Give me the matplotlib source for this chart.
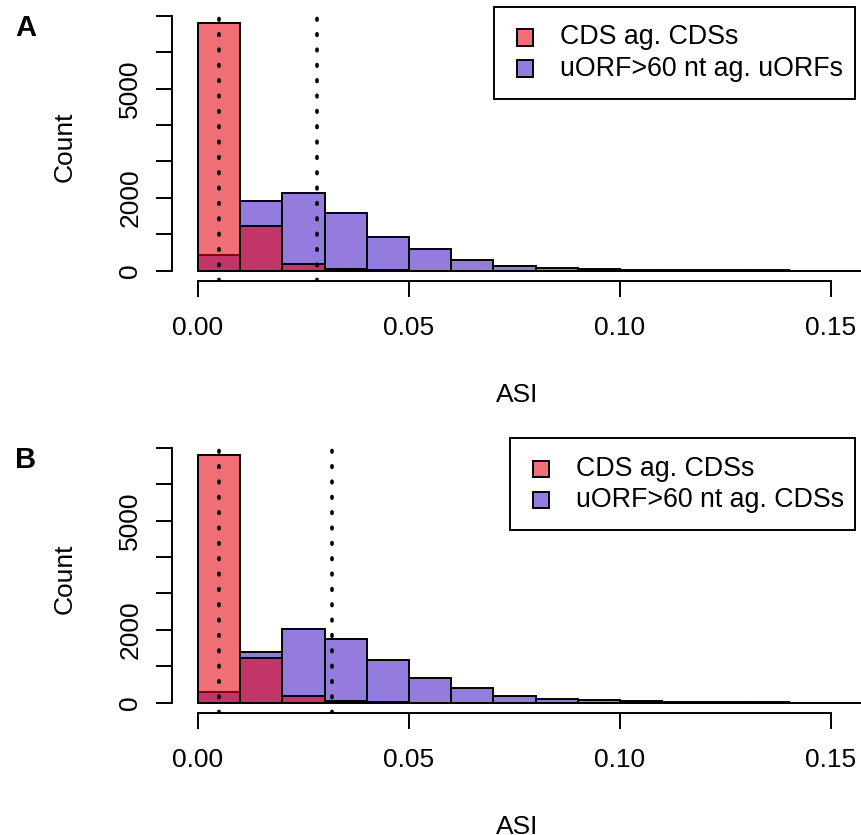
# Histogramas de ASI: CDS contra CDSs frente a uORFs > 60 nt (paneles A y B).
# Se dibujan las cuentas por bin de 0.01 con el estilo de graficas base de R.

import matplotlib
matplotlib.use('Agg')
import matplotlib.pyplot as plt
from matplotlib.patches import Rectangle

plt.rcParams['font.family'] = ['Liberation Sans', 'DejaVu Sans']

# Bins de ASI (borde izquierdo de cada bin, ancho 0.01)
ancho_bin = 0.01
bordes_bin = [i * ancho_bin for i in range(16)]

# Cuentas por bin: CDS ag. CDSs (igual en ambos paneles)
cuentas_cds = [6805, 1218, 184, 48, 8, 2, 0, 0, 0, 0, 0, 0, 0, 0, 0, 0]
# Panel A: uORF>60 nt ag. uORFs
cuentas_uorf_a = [430, 1913, 2141, 1593, 934, 587, 302, 135, 82, 46, 27, 14, 9, 6, 3, 2]
# Panel B: uORF>60 nt ag. CDSs
cuentas_uorf_b = [285, 1392, 2014, 1749, 1172, 678, 395, 176, 102, 66, 47, 20, 12, 7, 4, 2]

# Medianas (lineas punteadas)
mediana_cds = 0.005
mediana_uorf_a = 0.0281
mediana_uorf_b = 0.0318

etiquetas_a = ['CDS ag. CDSs', 'uORF>60 nt ag. uORFs']
etiquetas_b = ['CDS ag. CDSs', 'uORF>60 nt ag. CDSs']

ticks_x = [0.0, 0.05, 0.10, 0.15]
etiquetas_x = ['0.00', '0.05', '0.10', '0.15']
ticks_y = [0, 1000, 2000, 3000, 4000, 5000, 6000, 7000]
etiquetas_y = ['0', '', '2000', '', '', '5000', '', '']

# Colores: rojo semitransparente encima del morado
color_rojo = (229 / 255, 0.0, 15 / 255)
alfa_rojo = 0.57
color_morado = '#947CDE'

ANCHO, ALTO = 862, 835
LW = 1.4
fig = plt.figure(figsize=(ANCHO / 100, ALTO / 100), dpi=100)


def px(x, y):
    # Convierte pixeles (origen arriba-izquierda) a fraccion de figura
    return x / ANCHO, 1 - y / ALTO


def panel(y_base, cuentas_uorf, mediana_uorf, letra, etiquetas, caja_leyenda):
    """Dibuja un panel: histogramas superpuestos, medianas y leyenda."""
    # 0.01 de ASI = 42.2 px; 1000 cuentas = 36.43 px
    esc_x, esc_y = 4220.0, 0.03643
    izq, alto_ax = 172.3, 267.9
    arriba = y_base - 7079 * esc_y
    x0, y0 = px(izq, arriba + alto_ax)
    ax = fig.add_axes([x0, y0, 1 - x0, alto_ax / ALTO])
    ax.set_xlim((izq - 198) / esc_x, (ANCHO - 198) / esc_x)
    ax.set_ylim(-(alto_ax - 7079 * esc_y) / esc_y, 7079)

    ax.bar(bordes_bin, cuentas_uorf, width=ancho_bin, align='edge',
           color=color_morado, edgecolor='black', linewidth=LW)
    ax.bar(bordes_bin, cuentas_cds, width=ancho_bin, align='edge',
           color=color_rojo + (alfa_rojo,), edgecolor='black', linewidth=LW)

    # Puntos redondos cada ~15 px
    for m in (mediana_cds, mediana_uorf):
        ax.axvline(m, color='black', linewidth=2.6,
                   linestyle=(0, (0.45, 3.8)), dash_capstyle='round')

    # Ejes al estilo R: sin caja, solo lineas entre los ticks extremos
    for lado in ('top', 'right'):
        ax.spines[lado].set_visible(False)
    ax.spines['left'].set_bounds(0, 7000)
    ax.spines['bottom'].set_bounds(0, 0.15)
    for lado in ('left', 'bottom'):
        ax.spines[lado].set_linewidth(LW)
    ax.set_xticks(ticks_x, etiquetas_x)
    ax.set_yticks(ticks_y, etiquetas_y)
    ax.tick_params(length=11.5, width=LW, labelsize=19)
    ax.tick_params(axis='x', pad=14)
    ax.tick_params(axis='y', pad=10)
    for t in ax.get_yticklabels():
        t.set_rotation(90)
        t.set_va('center')
    ax.set_xlabel('ASI', fontsize=19, labelpad=31)
    ax.set_ylabel('Count', fontsize=19, labelpad=30)

    fig.text(*px(26, arriba + 15), letra, fontsize=21, fontweight='bold',
             ha='center', va='center')

    # Leyenda con caja negra
    cx0, cy0, cx1, cy1 = caja_leyenda
    bx, by = px(cx0, cy1)
    fig.add_artist(Rectangle((bx, by), (cx1 - cx0) / ANCHO, (cy1 - cy0) / ALTO,
                             transform=fig.transFigure, facecolor='white',
                             edgecolor='black', linewidth=LW))
    colores = [color_rojo + (alfa_rojo,), color_morado]
    for i, (etq, col) in enumerate(zip(etiquetas, colores)):
        fila = cy0 + 30.5 + 31 * i
        qx, qy = px(cx0 + 23, fila + 8.2)
        fig.add_artist(Rectangle((qx, qy), 16.5 / ANCHO, 16.5 / ALTO,
                                 transform=fig.transFigure, facecolor=col,
                                 edgecolor='black', linewidth=LW))
        fig.text(*px(cx0 + 66, fila), etq, fontsize=19.3, ha='left', va='center')
    return ax


panel(270.7, cuentas_uorf_a, mediana_uorf_a, 'A', etiquetas_a, (494, 7, 855, 99))
panel(702.7, cuentas_uorf_b, mediana_uorf_b, 'B', etiquetas_b, (510, 438.3, 855, 530.3))

fig.savefig('out.png', dpi=100)
